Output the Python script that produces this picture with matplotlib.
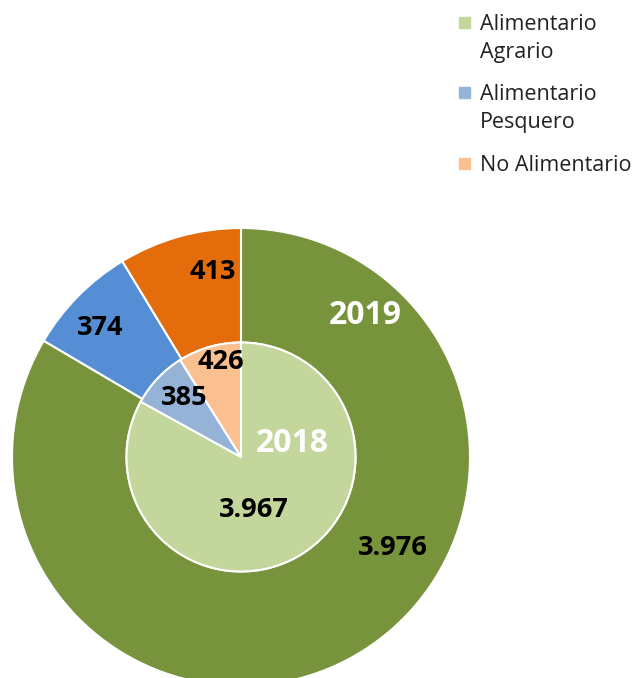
import matplotlib.pyplot as plt
from matplotlib.patches import Rectangle

plt.rcParams['font.family'] = ['Open Sans', 'DejaVu Sans']

categories = ["Alimentario\nAgrario", "Alimentario\nPesquero", "No Alimentario"]
valores_2019 = [3976, 374, 413]
valores_2018 = [3967, 385, 426]

colores_2019 = ["#77933C", "#558ED5", "#E46C0A"]
colores_2018 = ["#C3D69B", "#95B3D7", "#FAC090"]

# label positions (data units, pie radius = 1)
pos_2019 = [(0.664, -0.397), (-0.616, 0.563), (-0.122, 0.808)]
pos_2018 = [(0.057, -0.231), (-0.249, 0.258), (-0.087, 0.415)]


def fmt(v):
    return f"{v:,}".replace(",", ".")


fig = plt.figure(figsize=(6.4, 6.78), dpi=100)
W, H = 640, 678
cx, cy, R = 241, 457, 229
ax = fig.add_axes([(cx - R) / W, (H - cy - R) / H, 2 * R / W, 2 * R / H])

ax.pie(valores_2019, radius=1.0, colors=colores_2019, startangle=90,
       counterclock=False,
       wedgeprops=dict(width=0.5, edgecolor="white", linewidth=1.5))
ax.pie(valores_2018, radius=0.5, colors=colores_2018, startangle=90,
       counterclock=False,
       wedgeprops=dict(edgecolor="white", linewidth=1.5))
ax.set_xlim(-1, 1)
ax.set_ylim(-1, 1)
ax.axis("off")

for v, (x, y) in zip(valores_2019, pos_2019):
    ax.text(x, y, fmt(v), ha="center", va="center", fontsize=19.5,
            fontweight="bold", color="black")
for v, (x, y) in zip(valores_2018, pos_2018):
    ax.text(x, y, fmt(v), ha="center", va="center", fontsize=19.5,
            fontweight="bold", color="black")

ax.text(0.541, 0.616, "2019", ha="center", va="center", fontsize=23,
        fontweight="bold", color="white")
ax.text(0.223, 0.057, "2018", ha="center", va="center", fontsize=23,
        fontweight="bold", color="white")

# legend drawn by hand so the square sits on the first text line
baselines = [30, 100, 171]
for lab, col, b in zip(categories, colores_2018, baselines):
    fig.patches.append(Rectangle((459 / W, 1 - (b - 2) / H), 11 / W, 11 / H,
                                 transform=fig.transFigure, color=col))
    for i, line in enumerate(lab.split("\n")):
        fig.text(480 / W, 1 - (b + 28 * i) / H, line, ha="left",
                 va="baseline", fontsize=15.5, color="#222222")

fig.savefig("out.png", dpi=100)
